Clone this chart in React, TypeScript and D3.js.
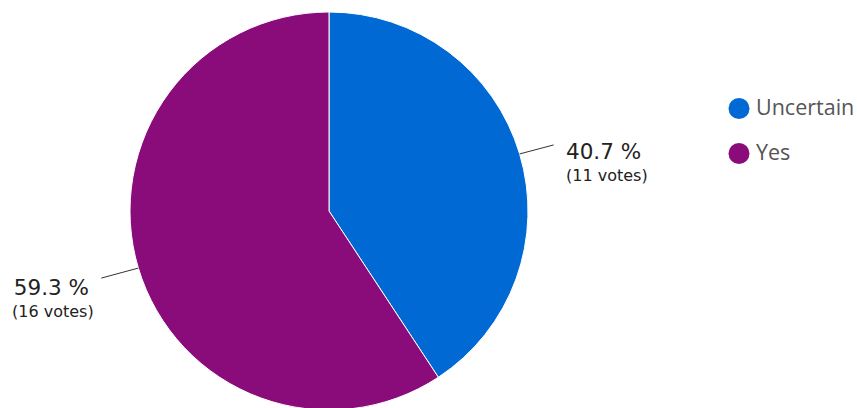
import React from "react";
import * as d3 from "d3";

const categories = ["Uncertain", "Yes"];
const votes = [11, 16];
const percentLabels = ["40.7 %", "59.3 %"];
const colors = ["#0069d4", "#8a0c7a"];

const W = 857;
const H = 408;
const cx = 329;
const cy = 211;
const R = 199;

export default function App() {
  const pie = d3.pie<number>().sort(null).value((d) => d);
  const arcs = pie(votes);
  const arcGen = d3.arc<d3.PieArcDatum<number>>().innerRadius(0).outerRadius(R);

  return (
    <svg width={W} height={H} style={{ position: "absolute", left: 0, top: 0 }}>
      <g transform={`translate(${cx},${cy})`}>
        {arcs.map((a, i) => (
          <path key={i} d={arcGen(a) || ""} fill={colors[i]} stroke="#ffffff" strokeWidth={1} />
        ))}
        {arcs.map((a, i) => {
          const mid = (a.startAngle + a.endAngle) / 2;
          const px = R * Math.sin(mid);
          const py = -R * Math.cos(mid);
          const right = px > 0;
          const ex = px + (right ? 34 : -37);
          const ey = py + (right ? -9 : 10);
          const tx = right ? 566 - cx : 89 - cx;
          const pctY = right ? ey + 14 : ey + 17;
          return (
            <g key={"l" + i}>
              <line x1={px} y1={py} x2={ex} y2={ey} stroke="#333" strokeWidth={1} />
              <text
                x={tx}
                y={pctY}
                fontFamily="DejaVu Sans"
                fontSize={21.5}
                fill="#222"
                textAnchor={right ? "start" : "end"}
              >
                {percentLabels[i]}
              </text>
              <text
                x={right ? tx : 12 - cx}
                y={pctY + 22}
                fontFamily="DejaVu Sans"
                fontSize={16}
                fill="#222"
                textAnchor="start"
              >
                {`(${votes[i]} votes)`}
              </text>
            </g>
          );
        })}
      </g>
      {categories.map((c, i) => (
        <g key={"lg" + i} transform={`translate(739,${108.5 + i * 45})`}>
          <circle r={10.5} fill={colors[i]} />
          <text x={17} y={6.5} fontFamily="Open Sans" fontSize={21.5} fill="#555">
            {c}
          </text>
        </g>
      ))}
    </svg>
  );
}
